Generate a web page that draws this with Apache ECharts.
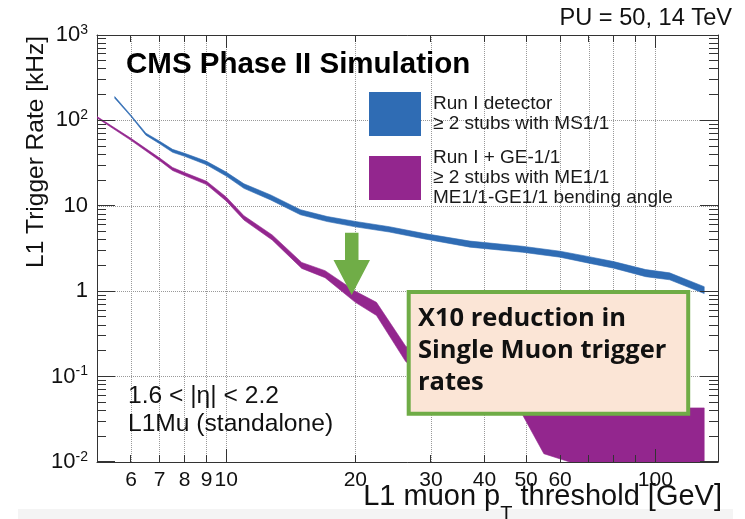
<!DOCTYPE html>
<html><head><meta charset="utf-8">
<script src="https://cdn.jsdelivr.net/npm/echarts@6/dist/echarts.min.js"></script>
<style>html,body{margin:0;padding:0;background:#fff}#c{width:745px;height:519px}</style>
</head><body><div id="c"></div>
<script>
// ---- tick definitions ----
const xTickValues  = [6, 7, 8, 9, 10, 20, 30, 40, 50, 60, 70, 80, 90, 100];
const xLabelValues = [6, 7, 8, 9, 10, 20, 30, 40, 50, 60, 100];
const xMajorTicks  = [10, 100];
const yMajorTicks  = [0.01, 0.1, 1, 10, 100, 1000];
const yMinorTicks  = [0.02,0.03,0.04,0.05,0.06,0.07,0.08,0.09,
                      0.2,0.3,0.4,0.5,0.6,0.7,0.8,0.9,
                      2,3,4,5,6,7,8,9,
                      20,30,40,50,60,70,80,90,
                      200,300,400,500,600,700,800,900];

// ---- series names ----
const blueName   = 'Run I detector\n≥ 2 stubs with MS1/1';
const purpleName = 'Run I + GE-1/1\n≥ 2 stubs with ME1/1\nME1/1-GE1/1 bending angle';

// ---- Run I detector band (pT threshold, lower / upper rate in kHz) ----
const bluePt = [5.5, 6, 6.5, 7, 7.5, 8, 9, 10, 11, 12.7, 14.9, 17.2, 20, 24, 29, 37, 49, 60, 70, 80, 95, 108, 130];
const blueLo = [182, 111, 67.2, 53.2, 42.3, 38.0, 30.2, 22.3, 16.0, 11.7, 7.85, 6.54, 5.67, 4.93, 4.09, 3.28, 2.86, 2.50, 2.13, 1.86, 1.48, 1.36, 0.94];
const blueHi = [190, 115, 70.9, 56.9, 45.8, 41.2, 33.2, 24.8, 18.1, 13.4, 8.99, 7.49, 6.56, 5.69, 4.73, 3.86, 3.36, 2.94, 2.54, 2.22, 1.79, 1.64, 1.13];

// ---- Run I + GE-1/1 band ----
const purplePt = [5, 6, 7, 7.5, 8, 9, 10, 11, 12.8, 15, 17, 20, 22.4, 26.2, 30, 35, 40, 45, 49, 55, 64, 80, 100, 115, 130];
const purpleLo = [107, 58.4, 33.8, 25.9, 22.6, 17.7, 11.4, 6.8, 3.98, 1.85, 1.44, 0.74, 0.52, 0.15, 0.09, 0.065, 0.05, 0.042, 0.036, 0.0125, 0.0098, 0.006, 0.005, 0.005, 0.005];
const purpleHi = [111, 61.6, 36.2, 28.1, 24.5, 19.4, 12.7, 7.65, 4.56, 2.17, 1.74, 1.0, 0.74, 0.227, 0.16, 0.11, 0.08, 0.06, 0.052, 0.048, 0.045, 0.044, 0.043, 0.043, 0.043];

const FONT = 'Liberation Sans';
const AXC = '#333';
const BLUE = '#2f6cb4';
const PURPLE = '#93268e';
const X_MIN = 5, X_MAX = 140, Y_MIN = 0.01, Y_MAX = 1000;

// ROOT-style tick "combs" (one polygon per frame side), positions from the axis scales
function combs(toX, toY) {
  const L = toX(X_MIN), R = toX(X_MAX), T = toY(Y_MAX), B = toY(Y_MIN);
  const xs = xTickValues.map(function (v) { return { p: Math.floor(toX(v)), len: xMajorTicks.indexOf(v) >= 0 ? 13 : 7 }; });
  const ys = yMajorTicks.map(function (v) { return { p: Math.floor(toY(v)), len: 18 }; })
    .concat(yMinorTicks.map(function (v) { return { p: Math.floor(toY(v)), len: 9 }; }))
    .sort(function (a, b) { return a.p - b.p; });
  const bottom = [[L, B]], top = [[L, T]], left = [[L, T]], right = [[R, T]];
  xs.forEach(function (t) {
    bottom.push([t.p, B], [t.p, B - t.len], [t.p + 1, B - t.len], [t.p + 1, B]);
    top.push([t.p, T], [t.p, T + t.len], [t.p + 1, T + t.len], [t.p + 1, T]);
  });
  bottom.push([R, B]); top.push([R, T]);
  ys.forEach(function (t) {
    const q = Math.min(Math.max(t.p, T), B - 1);
    left.push([L, q], [L + t.len, q], [L + t.len, q + 1], [L, q + 1]);
    right.push([R, q], [R - t.len, q], [R - t.len, q + 1], [R, q + 1]);
  });
  left.push([L, B]); right.push([R, B]);
  return [bottom, top, left, right];
}

function bandSeries(name, color, pts, lo, hi, withTicks) {
  return {
    type: 'custom', name: name, clip: true, z: 3,
    xAxisIndex: 0, yAxisIndex: 0,
    itemStyle: { color: color },
    data: pts.map((p, i) => [p, lo[i], hi[i]]),
    encode: { x: 0, y: [1, 2] },
    renderItem: function (params, api) {
      const k = params.dataIndex;
      if (k === 0) {
        const up = [], dn = [];
        for (let i = 0; i < pts.length; i++) {
          up.push(api.coord([pts[i], hi[i]]));
          dn.push(api.coord([pts[i], lo[i]]));
        }
        return {
          type: 'polygon',
          shape: { points: up.concat(dn.reverse()) },
          style: { fill: color, stroke: color, lineWidth: 0.6 }
        };
      }
      if (withTicks && k >= 1 && k <= 4) {
        const c = combs(function (v) { return api.coord([v, 1])[0]; },
                        function (v) { return api.coord([10, v])[1]; });
        return { type: 'polygon', shape: { points: c[k - 1] }, style: { fill: AXC } };
      }
      return null;
    }
  };
}

const legendCommon = {
  orient: 'vertical', left: 369, padding: 0, itemWidth: 52, itemHeight: 44,
  icon: 'rect', selectedMode: false,
  textStyle: { fontSize: 19, lineHeight: 20, color: '#1a1a1a', fontFamily: FONT, padding: [0, 0, 0, 7] }
};

const chart = echarts.init(document.getElementById('c'), null, { renderer: 'canvas' });
chart.setOption({
  animation: false,
  backgroundColor: '#fff',
  grid: { left: 97, top: 35, right: 27, bottom: 57, containLabel: false },
  xAxis: [
    {
      type: 'log', logBase: 10, min: X_MIN, max: X_MAX, position: 'bottom',
      axisLine: { show: true, onZero: false, lineStyle: { color: AXC, width: 1 } },
      axisTick: { show: false, customValues: xTickValues },
      axisLabel: { show: true, customValues: xLabelValues, margin: 8, fontSize: 21, color: '#111', fontFamily: FONT },
      splitLine: { show: true, lineStyle: { type: 'dotted', color: '#999', width: 1 } },
      minorTick: { show: false }, minorSplitLine: { show: false }
    },
    {
      type: 'log', logBase: 10, min: X_MIN, max: X_MAX, position: 'top',
      axisLine: { show: true, onZero: false, lineStyle: { color: AXC, width: 1 } },
      axisTick: { show: false }, axisLabel: { show: false }, splitLine: { show: false }
    }
  ],
  yAxis: [
    {
      type: 'log', logBase: 10, min: Y_MIN, max: Y_MAX, position: 'left',
      axisLine: { show: true, onZero: false, lineStyle: { color: AXC, width: 1 } },
      axisTick: { show: false, customValues: yMajorTicks },
      axisLabel: {
        show: true, margin: 9, align: 'right', customValues: yMajorTicks,
        formatter: function (v) {
          const e = Math.round(Math.log10(v));
          if (e === 0) return '{b|1}';
          if (e === 1) return '{b|10}';
          return '{b|10}{s|' + e + '}';
        },
        rich: {
          b: { fontSize: 22, lineHeight: 24, fontFamily: FONT, color: '#111' },
          s: { fontSize: 14, lineHeight: 12, fontFamily: FONT, color: '#111', verticalAlign: 'top' }
        }
      },
      splitLine: { show: true, lineStyle: { type: 'dotted', color: '#999', width: 1 } },
      minorTick: { show: false }, minorSplitLine: { show: false }
    },
    {
      type: 'log', logBase: 10, min: Y_MIN, max: Y_MAX, position: 'right',
      axisLine: { show: true, onZero: false, lineStyle: { color: AXC, width: 1 } },
      axisTick: { show: false }, axisLabel: { show: false }, splitLine: { show: false }
    }
  ],
  legend: [
    Object.assign({}, legendCommon, { data: [blueName], top: 92 }),
    Object.assign({}, legendCommon, { data: [purpleName], top: 148 })
  ],
  series: [
    bandSeries(purpleName, PURPLE, purplePt, purpleLo, purpleHi, false),
    bandSeries(blueName, BLUE, bluePt, blueLo, blueHi, true)
  ],
  graphic: [
    { type: 'rect', z: 0, shape: { x: 18, y: 509, width: 715, height: 10 }, style: { fill: '#f4f4f4' } },
    { type: 'text', z: 20, x: 126, y: 65, style: { text: 'CMS Phase II Simulation', fontSize: 29.5, fontWeight: 'bold', fontFamily: FONT, fill: '#000', align: 'left', verticalAlign: 'middle' } },
    { type: 'text', z: 20, x: 732, y: 18, style: { text: 'PU = 50, 14 TeV', fontSize: 23.6, fontFamily: FONT, fill: '#111', align: 'right', verticalAlign: 'middle' } },
    { type: 'text', z: 20, x: 128, y: 396, style: { text: '1.6 < |η| < 2.2', fontSize: 24.6, fontFamily: FONT, fill: '#111', align: 'left', verticalAlign: 'middle' } },
    { type: 'text', z: 20, x: 128, y: 424.7, style: { text: 'L1Mu (standalone)', fontSize: 24.6, fontFamily: FONT, fill: '#111', align: 'left', verticalAlign: 'middle' } },
    { type: 'text', z: 20, x: 36, y: 152, rotation: Math.PI / 2, style: { text: 'L1 Trigger Rate [kHz]', fontSize: 24.5, fontFamily: FONT, fill: '#111', align: 'center', verticalAlign: 'middle' } },
    { type: 'text', z: 20, x: 722, y: 482, style: {
        text: '{a|L1 muon p}{s|T}{a| threshold [GeV]}', align: 'right', verticalAlign: 'top',
        rich: {
          a: { fontSize: 29, lineHeight: 34, verticalAlign: 'top', fontFamily: FONT, fill: '#111' },
          s: { fontSize: 20, lineHeight: 42, verticalAlign: 'bottom', fontFamily: FONT, fill: '#111' }
        } } },
    { type: 'polygon', z: 10, shape: { points: [[345, 232.7], [358.5, 232.7], [358.5, 260], [370, 260], [351.7, 295], [333.5, 260], [345, 260]] }, style: { fill: '#70ad47' } },
    { type: 'rect', z: 10, shape: { x: 408.7, y: 292, width: 279.5, height: 121.7 }, style: { fill: '#fbe5d6', stroke: '#6fac46', lineWidth: 4 } },
    { type: 'text', z: 11, x: 418, y: 302.5, style: { text: 'X10 reduction in\nSingle Muon trigger\nrates', fontSize: 25.5, fontWeight: 'bold', fontFamily: 'Open Sans', lineHeight: 32, fill: '#111', align: 'left', verticalAlign: 'top' } }
  ]
});
</script>
</body></html>
